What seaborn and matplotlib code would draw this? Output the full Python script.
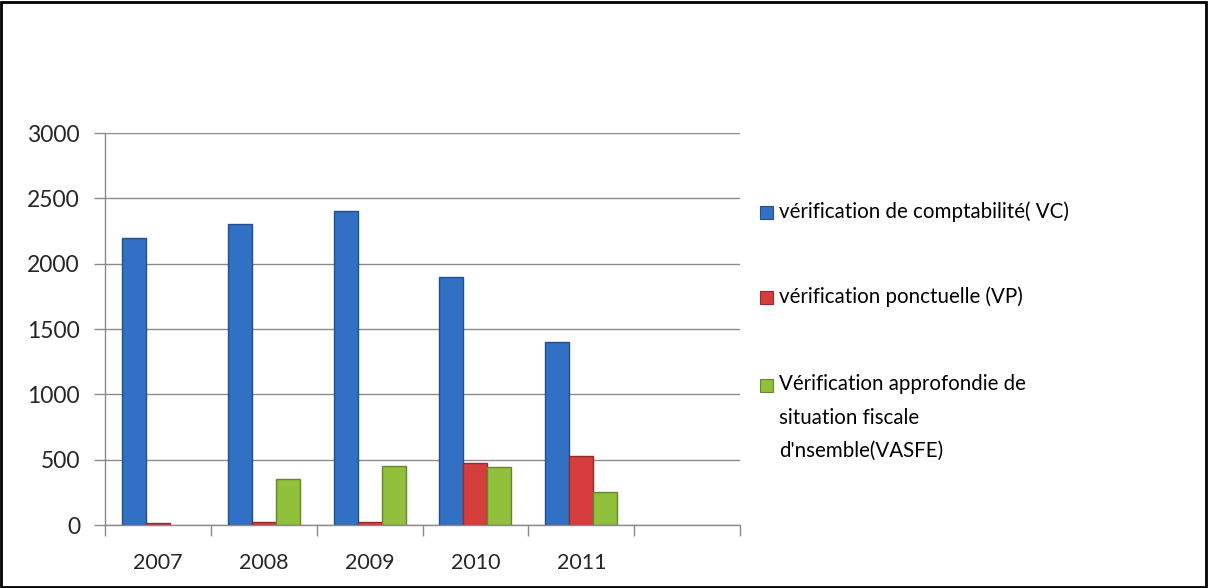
import matplotlib.pyplot as plt
import matplotlib.patches as mpatches
import matplotlib.colors as mcolors
import seaborn as sns
import pandas as pd

# Données
annees = ['2007', '2008', '2009', '2010', '2011']
vc = [2200, 2300, 2400, 1900, 1400]
vp = [15, 20, 20, 475, 525]
vasfe = [0, 350, 450, 445, 250]
series = ["vérification de comptabilité( VC)",
          "vérification ponctuelle (VP)",
          "Vérification approfondie de\nsituation fiscale\nd'nsemble(VASFE)"]

df = pd.DataFrame({
    "Annee": annees * 3,
    "Valeur": vc + vp + vasfe,
    "Type": [series[0]] * 5 + [series[1]] * 5 + [series[2]] * 5,
})

sns.set_theme(style="white")
plt.rcParams['font.family'] = ['Lato', 'DejaVu Sans']

palette = ['#3170C4', '#D63D3D', '#90C03C']

W, H = 1208, 588
fig = plt.figure(figsize=(W / 100, H / 100), dpi=100)
ax = fig.add_axes([105 / W, 1 - 525 / H, 635 / W, 392 / H])

sns.barplot(data=df, x="Annee", y="Valeur", hue="Type", order=annees + [''],
            palette=palette, saturation=1, width=0.68, gap=0, ax=ax,
            edgecolor='none', legend=False)

# bord légèrement plus sombre sur chaque barre
for p in ax.patches:
    fc = mcolors.to_rgb(p.get_facecolor())
    p.set_edgecolor([c * 0.7 for c in fc])
    p.set_linewidth(1 if p.get_height() > 0 else 0)

ax.set_ylim(0, 3000)
ax.set_xlim(-0.5, 5.5)
ax.set_yticks(range(0, 3001, 500))
ax.yaxis.grid(True, color='#8a8a8a', linewidth=1)
ax.set_axisbelow(True)
for s in ['top', 'right']:
    ax.spines[s].set_visible(False)
for s in ['left', 'bottom']:
    ax.spines[s].set_color('#8a8a8a')
    ax.spines[s].set_linewidth(1)

# graduations aux limites des catégories
ax.set_xticks([i - 0.5 for i in range(7)], minor=True)
ax.tick_params(axis='x', which='minor', length=8, color='#8a8a8a', width=1, bottom=True)
ax.tick_params(axis='x', which='major', length=0, pad=20, labelsize=15.5, bottom=True)
ax.tick_params(axis='y', length=8, color='#8a8a8a', width=1, pad=10, labelsize=16.5, left=True)
ax.set_xlabel("")
ax.set_ylabel("")

# légende à droite, poignée alignée sur la première ligne
leg_y = [212, 297, 385]
for col, lab, yy in zip(palette, series, leg_y):
    fig.patches.append(mpatches.Rectangle((760 / W, 1 - (yy + 6.5) / H), 13 / W, 13 / H,
                                          transform=fig.transFigure, facecolor=col,
                                          edgecolor=[c * 0.7 for c in mcolors.to_rgb(col)],
                                          linewidth=0.8))
    fig.text(779 / W, 1 - (yy - 11) / H, lab, ha='left', va='top', fontsize=14.8,
             linespacing=1.85, color='black')

# cadre noir autour de la figure
fig.patches.append(mpatches.Rectangle((0.001, 0.002), 0.997, 0.995, transform=fig.transFigure,
                                      fill=False, edgecolor='black', linewidth=2))

fig.savefig("out.png", dpi=100)
